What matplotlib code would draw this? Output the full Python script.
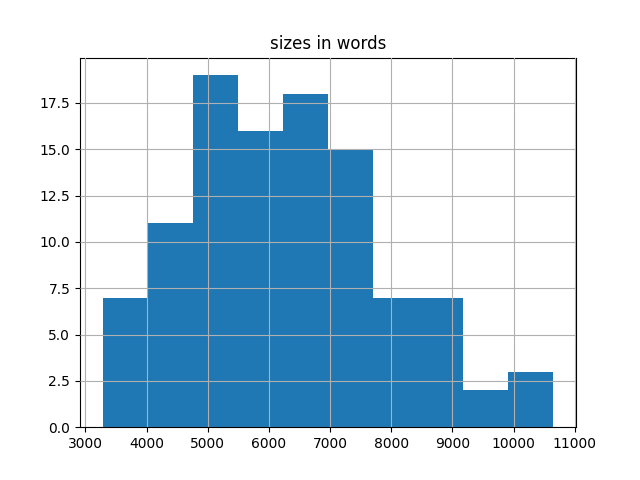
import matplotlib
matplotlib.use("Agg")
import matplotlib.pyplot as plt
import numpy as np

# Histogram data
bin_min = 3279
bin_max = 10651
n_bins = 10
counts = [7, 11, 19, 16, 18, 15, 7, 7, 2, 3]

edges = np.linspace(bin_min, bin_max, n_bins + 1)

fig, ax = plt.subplots(figsize=(6.4, 4.8), dpi=100)
ax.hist(edges[:-1], bins=edges, weights=counts, color="#1f77b4")
ax.grid(True)
ax.set_axisbelow(False)
ax.set_title("sizes in words")
fig.savefig("out.png", dpi=100)
